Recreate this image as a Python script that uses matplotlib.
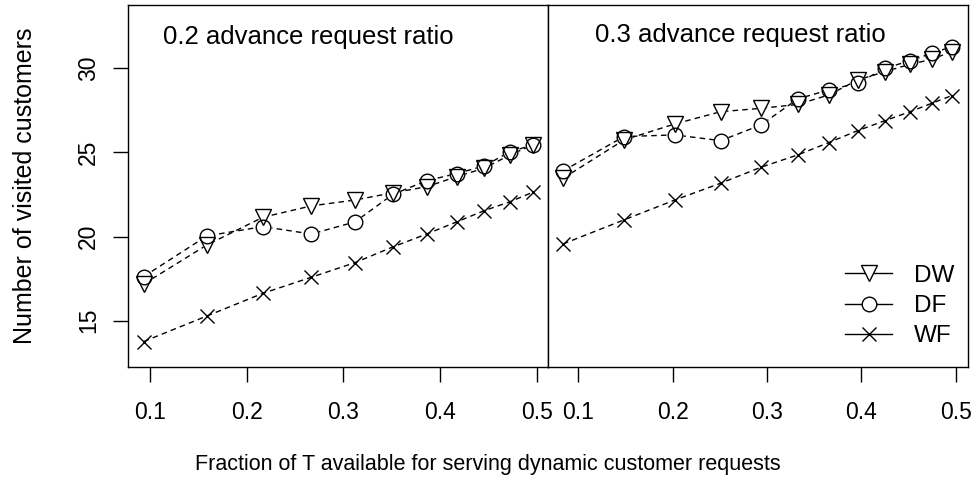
import matplotlib
matplotlib.use("Agg")
import matplotlib.pyplot as plt
from matplotlib.lines import Line2D

plt.rcParams['font.family'] = ['Liberation Sans', 'DejaVu Sans']

# ---- data ----
x_left = [0.0935, 0.1589, 0.2169, 0.2668, 0.312, 0.351, 0.3861, 0.4171, 0.4457, 0.4723, 0.4958]
dw_left = [17.18, 19.5, 21.15, 21.82, 22.17, 22.6, 22.96, 23.56, 24.06, 24.85, 25.44]
df_left = [17.62, 20.04, 20.59, 20.15, 20.87, 22.5, 23.32, 23.74, 24.2, 25.04, 25.44]
wf_left = [13.76, 15.28, 16.63, 17.58, 18.45, 19.38, 20.15, 20.87, 21.54, 22.07, 22.63]

x_right = [0.0838, 0.1484, 0.2022, 0.2509, 0.2936, 0.3325, 0.3652, 0.3959, 0.4251, 0.4516, 0.4746, 0.4956]
dw_right = [23.46, 25.74, 26.69, 27.42, 27.62, 27.85, 28.41, 29.3, 29.8, 30.24, 30.53, 30.99]
df_right = [23.9, 25.94, 26.04, 25.7, 26.63, 28.18, 28.71, 29.11, 30.0, 30.45, 30.89, 31.28]
wf_right = [19.56, 20.99, 22.17, 23.17, 24.12, 24.85, 25.58, 26.29, 26.89, 27.42, 27.92, 28.37]

series_names = ['DW', 'DF', 'WF']
markers = ['v', 'o', 'x']
x_ticks = [0.1, 0.2, 0.3, 0.4, 0.5]
x_ticklabels = ['0.1', '0.2', '0.3', '0.4', '0.5']
y_ticks = [15, 20, 25, 30]
panel_titles = ['0.2 advance request ratio', '0.3 advance request ratio']
xlabel = 'Fraction of T available for serving dynamic customer requests'
ylabel = 'Number of visited customers'

W, H = 976, 492
fig = plt.figure(figsize=(W / 100, H / 100), dpi=100)

def fr(x0, x1, ytop, ybot):
    return [x0 / W, 1 - ybot / H, (x1 - x0) / W, (ybot - ytop) / H]

ax1 = fig.add_axes(fr(128.3, 548, 5, 367.3))
ax2 = fig.add_axes(fr(548, 968.3, 5, 367.3))

ylim = (12.23, 33.76)
panels = [
    (ax1, x_left, [dw_left, df_left, wf_left], (0.0776, 0.5116)),
    (ax2, x_right, [dw_right, df_right, wf_right], (0.0679, 0.5133)),
]
ms = {'v': 11, 'o': 10.5, 'x': 9.5}
for ax, xs, ys_list, xlim in panels:
    for ys, m in zip(ys_list, markers):
        ax.plot(xs, ys, color='black', lw=1.0, ls=(0, (4, 3)), zorder=1)
    for ys, m in zip(ys_list, markers):
        if m != 'x':
            ax.plot(xs, ys, ls='none', marker=m, ms=ms[m], mfc='white', mec='white',
                    mew=1.0, zorder=2)
    for ys, m in zip(ys_list, markers):
        ax.plot(xs, ys, ls='none', marker=m, ms=ms[m], mfc='none', mec='black',
                mew=1.0, zorder=3)
    ax.set_xlim(*xlim)
    ax.set_ylim(*ylim)
    ax.set_xticks(x_ticks)
    ax.set_xticklabels(x_ticklabels)
    ax.tick_params(axis='x', direction='out', length=11, width=1.0, pad=13,
                   labelsize=16.5)
    for s in ax.spines.values():
        s.set_linewidth(1.0)

ax1.set_yticks(y_ticks)
ax1.set_yticklabels([str(v) for v in y_ticks], rotation=90, va='center')
ax1.tick_params(axis='y', direction='out', length=11, width=1.0, pad=9.5, labelsize=16.5)
ax2.set_yticks([])

ax1.text(0.083, 0.912, panel_titles[0], transform=ax1.transAxes, fontsize=18.5,
         ha='left', va='center')
ax2.text(0.112, 0.917, panel_titles[1], transform=ax2.transAxes, fontsize=18.5,
         ha='left', va='center')

handles = [Line2D([], [], color='black', lw=1.0, marker=m, ms=ms[m], mfc='white',
                  mec='black', mew=1.0) for m in markers]
ax2.legend(handles, series_names, loc='upper left', bbox_to_anchor=(0.7066, 0.283),
           frameon=False, fontsize=17.5, handlelength=1.95, handletextpad=0.9,
           labelspacing=0.34, borderpad=0, borderaxespad=0)

fig.text(0.5, 1 - 470 / H, xlabel, ha='center', va='baseline', fontsize=15.5)
fig.text(32 / W, 1 - 186 / H, ylabel, rotation=90, rotation_mode='anchor',
         ha='center', va='baseline', fontsize=18)

fig.savefig('out.png', dpi=100)
